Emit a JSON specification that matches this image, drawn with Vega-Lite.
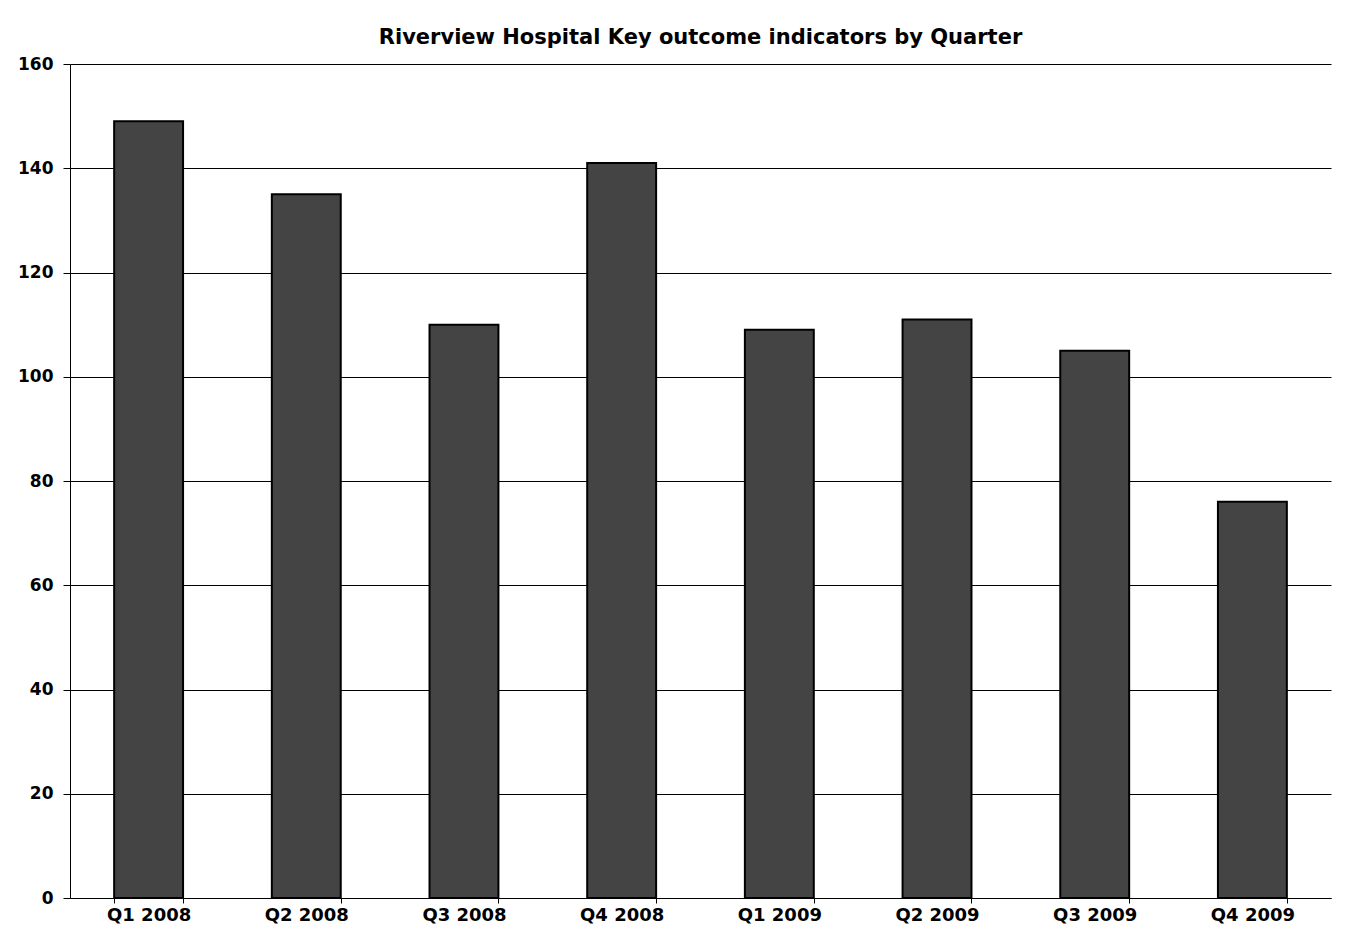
{
  "$schema": "https://vega.github.io/schema/vega-lite/v6.json",
  "autosize": "none",
  "width": 1261,
  "height": 834,
  "padding": {"left": 70, "top": 64, "right": 20, "bottom": 33},
  "background": "white",
  "title": {
    "text": "Riverview Hospital Key outcome indicators by Quarter",
    "font": "DejaVu Sans",
    "fontSize": 21,
    "fontWeight": "bold",
    "color": "black",
    "anchor": "middle",
    "offset": 7
  },
  "data": {
    "values": [
      {"quarter": "Q1 2008", "value": 149},
      {"quarter": "Q2 2008", "value": 135},
      {"quarter": "Q3 2008", "value": 110},
      {"quarter": "Q4 2008", "value": 141},
      {"quarter": "Q1 2009", "value": 109},
      {"quarter": "Q2 2009", "value": 111},
      {"quarter": "Q3 2009", "value": 105},
      {"quarter": "Q4 2009", "value": 76}
    ]
  },
  "mark": {"type": "bar", "color": "#444444", "stroke": "black", "strokeWidth": 2},
  "encoding": {
    "x": {
      "field": "quarter",
      "type": "nominal",
      "sort": null,
      "scale": {"paddingInner": 0.563, "paddingOuter": 0.28},
      "axis": {
        "title": null,
        "labelAngle": 0,
        "tickBand": "extent",
        "domainColor": "black",
        "tickColor": "black",
        "tickSize": 5,
        "labelFont": "DejaVu Sans",
        "labelFontSize": 18,
        "labelFontWeight": "bold",
        "labelColor": "black",
        "labelPadding": 3
      }
    },
    "y": {
      "field": "value",
      "type": "quantitative",
      "scale": {"domain": [0, 160], "nice": false},
      "axis": {
        "title": null,
        "values": [0, 20, 40, 60, 80, 100, 120, 140, 160],
        "grid": true,
        "gridColor": "black",
        "gridOpacity": 1,
        "gridWidth": 1,
        "domainColor": "black",
        "tickColor": "black",
        "tickSize": 7,
        "labelFont": "DejaVu Sans",
        "labelFontSize": 17,
        "labelFontWeight": "bold",
        "labelColor": "black",
        "labelPadding": 10
      }
    }
  },
  "config": {"view": {"stroke": null}}
}
